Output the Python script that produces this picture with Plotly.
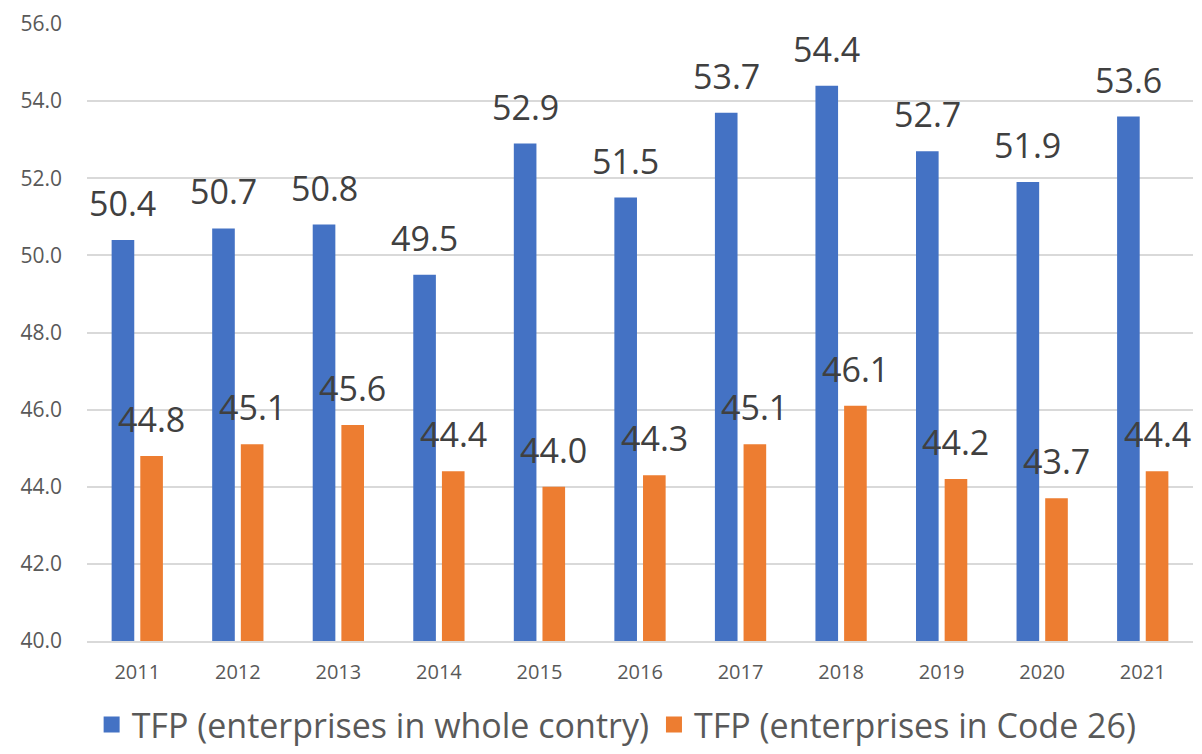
import plotly.graph_objects as go

years = [2011, 2012, 2013, 2014, 2015, 2016, 2017, 2018, 2019, 2020, 2021]
tfp_whole_country = [50.4, 50.7, 50.8, 49.5, 52.9, 51.5, 53.7, 54.4, 52.7, 51.9, 53.6]
tfp_code_26 = [44.8, 45.1, 45.6, 44.4, 44.0, 44.3, 45.1, 46.1, 44.2, 43.7, 44.4]
series_names = ["TFP (enterprises in whole contry)", "TFP (enterprises in Code 26)"]
y_ticks = [40, 42, 44, 46, 48, 50, 52, 54, 56]

BLUE = "#4472C4"
ORANGE = "#ED7D31"
FONT = "Open Sans"

bar_width = 0.225
gap = 0.06
offsets = [-(bar_width + gap / 2), gap / 2]

fig = go.Figure()
annotations = []
for name, values, color, off in zip(series_names, [tfp_whole_country, tfp_code_26],
                                     [BLUE, ORANGE], offsets):
    fig.add_trace(go.Bar(
        x=years, y=values, name=name, showlegend=False,
        marker=dict(color=color, line=dict(width=0)),
        width=bar_width, offset=off,
    ))
    # square legend swatch for the series
    fig.add_trace(go.Scatter(
        x=[None], y=[None], mode="markers", name=name,
        marker=dict(symbol="square", size=23, color=color),
    ))
    for yr, v in zip(years, values):
        annotations.append(dict(
            x=yr + off + bar_width / 2, y=v, xref="x", yref="y",
            text=f"{v:.1f}", showarrow=False, yanchor="bottom", xanchor="center",
            yshift=12, font=dict(family=FONT, size=34, color="#404040"),
        ))

fig.update_layout(
    width=1202, height=754,
    margin=dict(l=87, r=9, t=19, b=113),
    plot_bgcolor="white", paper_bgcolor="white",
    barmode="overlay",
    font=dict(family=FONT, color="#595959"),
    xaxis=dict(
        range=[2010.5, 2021.5], tickvals=years, ticktext=[str(y) for y in years],
        showgrid=False, zeroline=False, showline=True, linecolor="#D9D9D9", linewidth=2,
        tickfont=dict(size=20, color="#595959"), ticks="", ticklen=0,
        ticklabelstandoff=12,
    ),
    yaxis=dict(
        range=[40, 56], tickvals=y_ticks, ticktext=[f"{t:.1f}" for t in y_ticks],
        showgrid=True, gridcolor="#D9D9D9", gridwidth=2, zeroline=False,
        tickfont=dict(size=21, color="#595959"), ticks="", ticklen=0,
        ticklabelstandoff=24,
    ),
    legend=dict(
        orientation="h", xref="container", yref="container",
        x=0.513, y=0.0, xanchor="center", yanchor="bottom",
        font=dict(size=34, color="#595959", family=FONT),
        itemsizing="trace", itemwidth=30,
    ),
    annotations=annotations,
    showlegend=True,
)

fig.write_html("out.html")
